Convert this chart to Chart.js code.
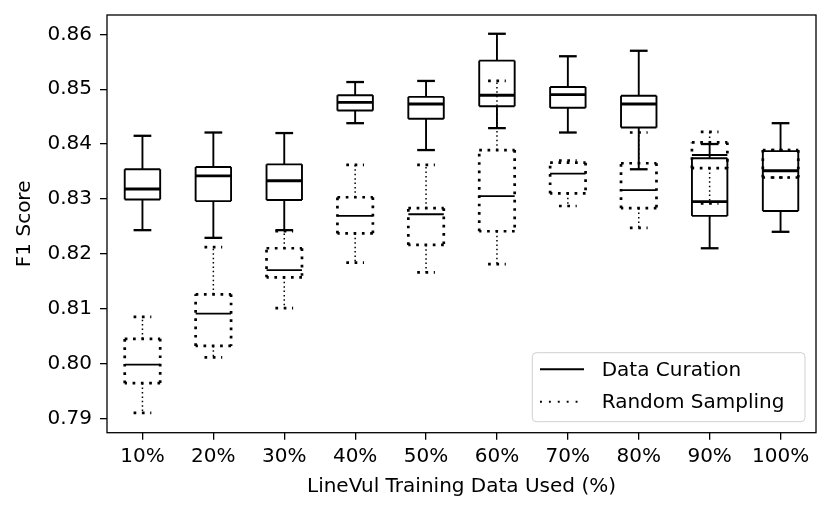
<!DOCTYPE html>
<html><head><meta charset="utf-8">
<script src="https://cdn.jsdelivr.net/npm/chart.js@4.4.1/dist/chart.umd.min.js"></script>
<style>html,body{margin:0;padding:0;background:#fff;} #wrap{width:831px;height:513px;position:relative;}</style>
</head><body><div id="wrap"><canvas id="c"></canvas></div>
<script>
const categories = ['10%','20%','30%','40%','50%','60%','70%','80%','90%','100%'];
const yTickValues = [0.79,0.80,0.81,0.82,0.83,0.84,0.85,0.86];

const curationMin    = [0.8243,0.8229,0.8243,0.8438,0.8389,0.8429,0.8421,0.8354,0.8210,0.8240];
const curationQ1     = [0.8299,0.8296,0.8298,0.8461,0.8446,0.8469,0.8466,0.8430,0.8269,0.8278];
const curationMedian = [0.8318,0.8342,0.8333,0.8476,0.8473,0.8489,0.8490,0.8473,0.8295,0.8351];
const curationQ3     = [0.8354,0.8358,0.8363,0.8489,0.8486,0.8552,0.8504,0.8488,0.8374,0.8387];
const curationMax    = [0.8415,0.8421,0.8420,0.8513,0.8515,0.8601,0.8560,0.8570,0.8400,0.8438];

const randomMin    = [0.7910,0.8011,0.8101,0.8184,0.8166,0.8181,0.8287,0.8247,0.8292,0.8339];
const randomQ1     = [0.7964,0.8032,0.8157,0.8237,0.8216,0.8241,0.8310,0.8283,0.8356,0.8339];
const randomMedian = [0.7998,0.8091,0.8170,0.8269,0.8272,0.8305,0.8346,0.8316,0.8380,0.8352];
const randomQ3     = [0.8045,0.8126,0.8210,0.8303,0.8283,0.8389,0.8366,0.8365,0.8403,0.8389];
const randomMax    = [0.8085,0.8212,0.8241,0.8362,0.8362,0.8515,0.8370,0.8421,0.8422,0.8389];

const FONT = "'DejaVu Sans', sans-serif";
Chart.defaults.font.family = FONT;
Chart.defaults.font.size = 20;
Chart.defaults.color = '#000';

const solidStyle = {box:{lw:1.9,dash:[]}, whisker:{lw:1.9,dash:[]}, cap:{lw:2.3,dash:[]}, median:{lw:2.9,dash:[]}};
const dottedStyle = {box:{lw:2.7,dash:[2.7,5.6]}, whisker:{lw:1.5,dash:[1.5,2.9]}, cap:{lw:2.7,dash:[2.7,5.6]}, median:{lw:1.8,dash:[]}};

function makeDataset(label, mins, q1s, meds, q3s, maxs, style, legendDash){
  return {
    label,
    data: q1s.map((q, i) => [q, q3s[i]]),
    stats: {mins, q1s, meds, q3s, maxs},
    boxStyle: style,
    legendDash,
    backgroundColor: 'rgba(0,0,0,0)',
    borderWidth: 0,
    grouped: false,
    barPercentage: 0.5,
    categoryPercentage: 1.0
  };
}

function line(ctx, x1, y1, x2, y2, st){
  ctx.beginPath();
  ctx.lineWidth = st.lw;
  ctx.setLineDash(st.dash);
  ctx.moveTo(x1, y1); ctx.lineTo(x2, y2);
  ctx.stroke();
}

const boxPlugin = {
  id: 'boxes',
  afterDatasetsDraw(chart){
    const ctx = chart.ctx, ys = chart.scales.y, area = chart.chartArea;
    ctx.save();
    ctx.strokeStyle = '#000';
    ctx.lineCap = 'butt';
    [1, 0].forEach(di => {
      const ds = chart.data.datasets[di];
      const meta = chart.getDatasetMeta(di);
      const s = ds.stats, st = ds.boxStyle;
      meta.data.forEach((el, i) => {
        const x = el.x, w = el.width, hw = w / 2, cw = w / 4;
        const pMin = ys.getPixelForValue(s.mins[i]);
        const pQ1 = ys.getPixelForValue(s.q1s[i]);
        const pMed = ys.getPixelForValue(s.meds[i]);
        const pQ3 = ys.getPixelForValue(s.q3s[i]);
        const pMax = ys.getPixelForValue(s.maxs[i]);
        line(ctx, x, pQ1, x, pMin, st.whisker);
        line(ctx, x, pQ3, x, pMax, st.whisker);
        line(ctx, x - cw, pMin, x + cw, pMin, st.cap);
        line(ctx, x - cw, pMax, x + cw, pMax, st.cap);
        line(ctx, x - hw, pQ3, x + hw, pQ3, st.box);
        line(ctx, x + hw, pQ3, x + hw, pQ1, st.box);
        line(ctx, x + hw, pQ1, x - hw, pQ1, st.box);
        line(ctx, x - hw, pQ1, x - hw, pQ3, st.box);
        line(ctx, x - hw, pMed, x + hw, pMed, st.median);
      });
    });
    // frame
    ctx.setLineDash([]);
    ctx.lineWidth = 1.3;
    ctx.strokeRect(area.left, area.top, area.right - area.left, area.bottom - area.top);
    // legend
    const lr = area.right - 11, lb = area.bottom - 11, lw = 272.7, lh = 69;
    const lx = lr - lw, ly = lb - lh;
    ctx.beginPath();
    ctx.roundRect(lx, ly, lw, lh, 4);
    ctx.fillStyle = 'rgba(255,255,255,0.8)';
    ctx.fill();
    ctx.lineWidth = 1;
    ctx.strokeStyle = '#d0d0d0';
    ctx.stroke();
    ctx.strokeStyle = '#000';
    ctx.fillStyle = '#000';
    ctx.font = "20px " + FONT;
    ctx.textBaseline = 'middle';
    ctx.textAlign = 'left';
    chart.data.datasets.forEach((ds, k) => {
      const cy = ly + 16.6 + k * 32.4;
      line(ctx, lx + 7.7, cy, lx + 51.7, cy, {lw: 1.9, dash: ds.legendDash});
      ctx.fillText(ds.label, lx + 69.4, cy + 1);
    });
    ctx.restore();
  }
};

new Chart(document.getElementById('c'), {
  type: 'bar',
  data: {
    labels: categories,
    datasets: [
      makeDataset('Data Curation', curationMin, curationQ1, curationMedian, curationQ3, curationMax, solidStyle, []),
      makeDataset('Random Sampling', randomMin, randomQ1, randomMedian, randomQ3, randomMax, dottedStyle, [1.9, 7])
    ]
  },
  options: {
    responsive: true,
    maintainAspectRatio: false,
    animation: false,
    events: [],
    layout: {autoPadding: false, padding: {left: 0, top: 15, right: 15, bottom: 0}},
    plugins: {legend: {display: false}, tooltip: {enabled: false}},
    scales: {
      x: {
        offset: true,
        grid: {display: true, drawOnChartArea: false, drawTicks: true, tickLength: 7, offset: false, color: '#000', lineWidth: 1.3},
        border: {display: false},
        ticks: {padding: 5, font: {size: 20}, color: '#000', maxRotation: 0, autoSkip: false},
        title: {display: true, text: 'LineVul Training Data Used (%)', font: {size: 20}, color: '#000', padding: {top: 0, bottom: 14}},
        afterFit(s){ s.height = 80.3; s.paddingLeft = 0; s.paddingRight = 0; s.paddingTop = 0; s.paddingBottom = 0; }
      },
      y: {
        min: 0.78738,
        max: 0.86352,
        afterBuildTicks(s){ s.ticks = yTickValues.map(v => ({value: v})); },
        grid: {display: true, drawOnChartArea: false, drawTicks: true, tickLength: 7, color: '#000', lineWidth: 1.3},
        border: {display: false},
        ticks: {padding: 8, font: {size: 20}, color: '#000', callback: v => Number(v).toFixed(2)},
        title: {display: true, text: 'F1 Score', font: {size: 20}, color: '#000', padding: {top: 13, bottom: 0}},
        afterFit(s){ s.width = 107; s.paddingLeft = 0; s.paddingRight = 0; s.paddingTop = 0; s.paddingBottom = 0; }
      }
    }
  },
  plugins: [boxPlugin]
});
</script>
</body></html>
